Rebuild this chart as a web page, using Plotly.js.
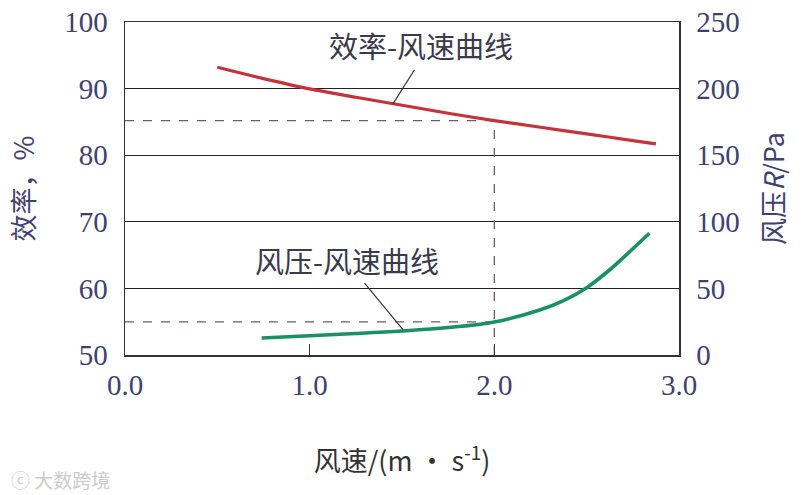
<!DOCTYPE html>
<html>
<head>
<meta charset="utf-8">
<script src="https://cdn.plot.ly/plotly-3.0.1.min.js"></script>
<style>html,body{margin:0;padding:0;background:#fff;}#chart{width:810px;height:495px;}</style>
</head>
<body>
<div id="chart"></div>
<script>
// Efficiency vs wind speed (left axis, %)
const effSpeed = [0.5, 0.75, 1.0, 1.25, 1.5, 1.75, 2.0, 2.25, 2.5, 2.75, 2.875];
const efficiency = [93.2, 91.5, 89.95, 88.7, 87.5, 86.3, 85.2, 84.2, 83.2, 82.2, 81.7];

// Wind pressure vs wind speed (right axis, Pa)
const pressSpeed = [0.74, 1.0, 1.25, 1.5, 1.75, 2.0, 2.25, 2.375, 2.5, 2.625, 2.75, 2.84];
const pressure = [12.8, 14.5, 16.1, 18.0, 20.6, 24.8, 34.0, 40.8, 50.5, 64.0, 79.8, 91.4];

// Reference (dashed) readings at wind speed 2.0
const refSpeed = 2.0;
const refEfficiency = 85.2;
const refPressure = 24.8;

const xTickVals = [0, 1, 2, 3];
const xTickText = ['0.0', '1.0', '2.0', '3.0'];
const leftTickVals = [50, 60, 70, 80, 90, 100];
const rightTickVals = [0, 50, 100, 150, 200, 250];

const serif = 'Liberation Serif, "Noto Sans CJK SC", serif';
const cjk = '"Noto Sans CJK SC", "Liberation Serif", serif';
const labelColor = '#41416f';
const dashColor = '#6e5c6e';

const traces = [
  { x: [0, refSpeed], y: [refEfficiency, refEfficiency], xaxis: 'x', yaxis: 'y', mode: 'lines',
    line: { color: dashColor, width: 1.3, dash: '9px,9px' }, hoverinfo: 'skip' },
  { x: [refSpeed, refSpeed], y: [50, refEfficiency], xaxis: 'x', yaxis: 'y', mode: 'lines',
    line: { color: dashColor, width: 1.3, dash: '9px,9px' }, hoverinfo: 'skip' },
  { x: [0, refSpeed], y: [refPressure, refPressure], xaxis: 'x', yaxis: 'y2', mode: 'lines',
    line: { color: dashColor, width: 1.3, dash: '9px,9px' }, hoverinfo: 'skip' },
  { x: effSpeed, y: efficiency, xaxis: 'x', yaxis: 'y', mode: 'lines', name: '效率-风速曲线',
    line: { color: '#c6323a', width: 3.2, shape: 'spline', smoothing: 0.8 } },
  { x: pressSpeed, y: pressure, xaxis: 'x', yaxis: 'y2', mode: 'lines', name: '风压-风速曲线',
    line: { color: '#1b9060', width: 3.6, shape: 'spline', smoothing: 1 } }
];

const layout = {
  width: 810, height: 495,
  margin: { l: 125, r: 131, t: 22, b: 140 },
  paper_bgcolor: '#ffffff', plot_bgcolor: '#ffffff',
  showlegend: false,
  xaxis: {
    range: [0, 3], tickvals: xTickVals, ticktext: xTickText,
    showline: true, mirror: true, linecolor: '#333', linewidth: 1.5,
    ticks: 'inside', ticklen: 11, tickcolor: '#333', tickwidth: 1.2,
    showgrid: false, zeroline: false,
    tickfont: { family: serif, size: 29, color: labelColor },
    ticklabelstandoff: 4,
    title: { text: '风速/(m · s<sup>-1</sup>)', font: { family: cjk, size: 27, color: '#333' }, standoff: 52 }
  },
  yaxis: {
    range: [50, 100], tickvals: leftTickVals,
    showline: true, linecolor: '#333', linewidth: 1.5,
    showgrid: true, gridcolor: '#222', gridwidth: 1.3, zeroline: false,
    ticks: '', tickfont: { family: serif, size: 29, color: labelColor },
    ticklabelstandoff: 10,
    title: { text: '效率，%', font: { family: cjk, size: 27, color: labelColor }, standoff: 22 }
  },
  yaxis2: {
    range: [0, 250], tickvals: rightTickVals, overlaying: 'y', side: 'right',
    showline: true, linecolor: '#333', linewidth: 1.5,
    showgrid: false, zeroline: false, ticks: '',
    tickfont: { family: serif, size: 29, color: labelColor },
    ticklabelstandoff: 10,
    title: { text: '风压<i>R</i>/Pa', font: { family: cjk, size: 27, color: labelColor }, standoff: 26 }
  },
  shapes: [
    { type: 'line', xref: 'x', yref: 'y', x0: 1.451, y0: 87.7, x1: 1.567, y1: 92.8, line: { color: '#333', width: 1.2 } },
    { type: 'line', xref: 'x', yref: 'y', x0: 1.505, y0: 53.8, x1: 1.297, y1: 60.8, line: { color: '#333', width: 1.2 } }
  ],
  annotations: [
    { text: '效率-风速曲线', xref: 'x', yref: 'y', x: 1.605, y: 96.6, showarrow: false,
      font: { family: cjk, size: 29, color: '#3a3a4a' } },
    { text: '风压-风速曲线', xref: 'x', yref: 'y', x: 1.20, y: 64.3, showarrow: false,
      font: { family: cjk, size: 29, color: '#3a3a4a' } },
    { text: 'ⓒ 大数跨境', xref: 'paper', yref: 'paper', x: -0.21, y: -0.375, xanchor: 'left', yanchor: 'middle',
      showarrow: false, font: { family: cjk, size: 19, color: '#cccccc' } }
  ]
};

Plotly.newPlot('chart', traces, layout, { displayModeBar: false, staticPlot: true });
</script>
</body>
</html>
